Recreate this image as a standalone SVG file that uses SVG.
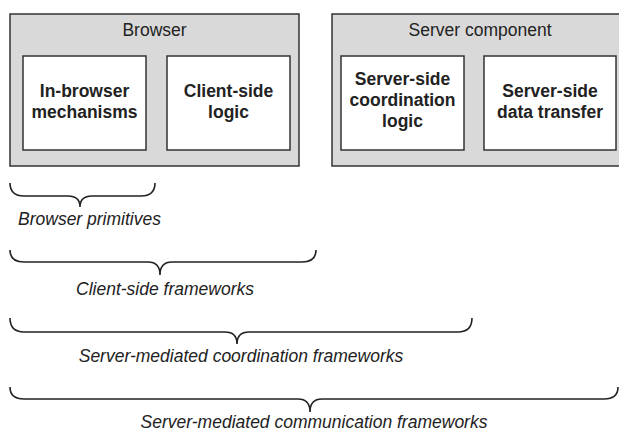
<svg xmlns="http://www.w3.org/2000/svg" width="619" height="431" viewBox="0 0 619 431">
<style>
.outer{fill:#d9d9d9;stroke:#333;stroke-width:1.5}
.inner{fill:#fff;stroke:#333;stroke-width:1.5}
.title{font-family:"Liberation Sans",Arial,sans-serif;font-size:17.5px;fill:#222;text-anchor:middle}
.lbl{font-family:"Liberation Sans",Arial,sans-serif;font-size:17.5px;font-weight:bold;fill:#222;text-anchor:middle}
.cap{font-family:"Liberation Sans",Arial,sans-serif;font-size:17.5px;font-style:italic;fill:#222;text-anchor:middle}
.brace{fill:none;stroke:#222;stroke-width:1.6}
</style>
<rect width="619" height="431" fill="#fff"/>
<g id="browser">
<rect class="outer" x="10" y="14" width="289" height="152"/>
<text class="title" x="154.5" y="36">Browser</text>
</g>
<g id="in-browser">
<rect class="inner" x="23" y="56" width="123" height="94"/>
<text class="lbl" x="84.5" y="97">In-browser</text>
<text class="lbl" x="84.5" y="118">mechanisms</text>
</g>
<g id="client-logic">
<rect class="inner" x="167" y="56" width="123" height="94"/>
<text class="lbl" x="228.5" y="97">Client-side</text>
<text class="lbl" x="228.5" y="118">logic</text>
</g>
<g id="server">
<rect class="outer" x="332" y="14" width="296" height="152"/>
<text class="title" x="480" y="36">Server component</text>
</g>
<g id="server-coord">
<rect class="inner" x="341" y="56" width="123" height="94"/>
<text class="lbl" x="402.5" y="85">Server-side</text>
<text class="lbl" x="402.5" y="106">coordination</text>
<text class="lbl" x="402.5" y="127">logic</text>
</g>
<g id="server-data">
<rect class="inner" x="484" y="56" width="132" height="94"/>
<text class="lbl" x="550" y="97">Server-side</text>
<text class="lbl" x="550" y="118">data transfer</text>
</g>
<g id="connectors">
<path class="brace" d="M10,183 Q10,196 24,196 L68,196 Q80,196 80,207 Q80,196 92,196 L141,196 Q155,196 155,183"/>
<path class="brace" d="M10,250 Q10,262 24,262 L148,262 Q160,262 160,275 Q160,262 172,262 L302,262 Q316,262 316,250"/>
<path class="brace" d="M10,318 Q10,332 24,332 L225,332 Q237,332 237,344 Q237,332 249,332 L458,332 Q472,332 472,318"/>
<path class="brace" d="M10,387 Q10,399 24,399 L298,399 Q310,399 310,412 Q310,399 322,399 L604,399 Q618,399 618,387"/>
</g>
<g id="captions">
<text class="cap" x="89.5" y="225">Browser primitives</text>
<text class="cap" x="165" y="295">Client-side frameworks</text>
<text class="cap" x="241" y="362">Server-mediated coordination frameworks</text>
<text class="cap" x="314" y="428">Server-mediated communication frameworks</text>
</g>
</svg>
